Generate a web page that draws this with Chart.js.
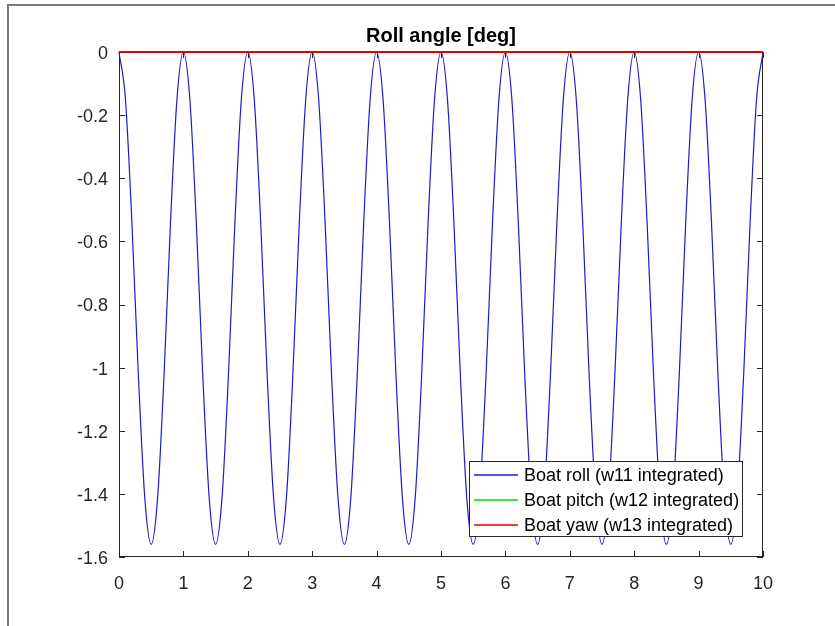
<!DOCTYPE html>
<html>
<head>
<meta charset="utf-8">
<script src="https://cdn.jsdelivr.net/npm/chart.js@4/dist/chart.umd.min.js"></script>
<style>
  html, body { margin: 0; padding: 0; background: #fff; }
  #wrap { position: relative; width: 835px; height: 626px; }
</style>
</head>
<body>
<div id="wrap"><canvas id="chart_roll" width="835" height="626"></canvas></div>
<script>
// time [s] and roll angle [deg], every 0.1 s
var rollTime = [
    0, 0.1, 0.2, 0.3, 0.4, 0.5, 0.6, 0.7, 0.8, 0.9,
    1, 1.1, 1.2, 1.3, 1.4, 1.5, 1.6, 1.7, 1.8, 1.9,
    2, 2.1, 2.2, 2.3, 2.4, 2.5, 2.6, 2.7, 2.8, 2.9,
    3, 3.1, 3.2, 3.3, 3.4, 3.5, 3.6, 3.7, 3.8, 3.9,
    4, 4.1, 4.2, 4.3, 4.4, 4.5, 4.6, 4.7, 4.8, 4.9,
    5, 5.1, 5.2, 5.3, 5.4, 5.5, 5.6, 5.7, 5.8, 5.9,
    6, 6.1, 6.2, 6.3, 6.4, 6.5, 6.6, 6.7, 6.8, 6.9,
    7, 7.1, 7.2, 7.3, 7.4, 7.5, 7.6, 7.7, 7.8, 7.9,
    8, 8.1, 8.2, 8.3, 8.4, 8.5, 8.6, 8.7, 8.8, 8.9,
    9, 9.1, 9.2, 9.3, 9.4, 9.5, 9.6, 9.7, 9.8, 9.9,
    10
];
var rollDeg = [
    0, -0.149, -0.539, -1.021, -1.411, -1.56, -1.411, -1.021, -0.539, -0.149,
    0, -0.149, -0.539, -1.021, -1.411, -1.56, -1.411, -1.021, -0.539, -0.149,
    0, -0.149, -0.539, -1.021, -1.411, -1.56, -1.411, -1.021, -0.539, -0.149,
    0, -0.149, -0.539, -1.021, -1.411, -1.56, -1.411, -1.021, -0.539, -0.149,
    0, -0.149, -0.539, -1.021, -1.411, -1.56, -1.411, -1.021, -0.539, -0.149,
    0, -0.149, -0.539, -1.021, -1.411, -1.56, -1.411, -1.021, -0.539, -0.149,
    0, -0.149, -0.539, -1.021, -1.411, -1.56, -1.411, -1.021, -0.539, -0.149,
    0, -0.149, -0.539, -1.021, -1.411, -1.56, -1.411, -1.021, -0.539, -0.149,
    0, -0.149, -0.539, -1.021, -1.411, -1.56, -1.411, -1.021, -0.539, -0.149,
    0, -0.149, -0.539, -1.021, -1.411, -1.56, -1.411, -1.021, -0.539, -0.149,
    0
];
// pitch and yaw stay flat at zero
var flatTime = [0, 10];
var pitchDeg = [0, 0];
var yawDeg = [0, 0];

var seriesLabels = ['Boat roll (w11 integrated)', 'Boat pitch (w12 integrated)', 'Boat yaw (w13 integrated)'];
var seriesColors = ['#1c1ccd', '#00dc00', '#e60000'];
var xRange = [0, 10];
var yRange = [-1.6, 0];

function toPoints(xs, ys) {
    return xs.map((x, i) => ({ x: x, y: ys[i] }));
}

var axisColor = '#262626';
var fontFamily = '"Liberation Sans", Arial, Helvetica, sans-serif';

// MATLAB-like axes box, inward ticks, frame and legend
var matlabLook = {
    id: 'matlabLook',
    beforeDraw(chart) {
        var ctx = chart.ctx;
        ctx.save();
        ctx.strokeStyle = '#7b7b7b';
        ctx.lineWidth = 2;
        ctx.beginPath();
        ctx.moveTo(8, chart.height);
        ctx.lineTo(8, 5);
        ctx.lineTo(chart.width, 5);
        ctx.stroke();
        ctx.restore();
    },
    beforeDatasetsDraw(chart) {
        var ctx = chart.ctx, a = chart.chartArea;
        var xs = chart.scales.x, ys = chart.scales.y;
        ctx.save();
        ctx.strokeStyle = axisColor;
        ctx.lineWidth = 1;
        ctx.strokeRect(a.left + 0.5, a.top + 0.5, a.right - a.left - 1, a.bottom - a.top - 1);
        ctx.beginPath();
        xs.ticks.forEach(t => {
            var px = Math.round(xs.getPixelForValue(t.value)) + 0.5;
            ctx.moveTo(px, a.bottom); ctx.lineTo(px, a.bottom - 6);
            ctx.moveTo(px, a.top); ctx.lineTo(px, a.top + 6);
        });
        ys.ticks.forEach(t => {
            var py = Math.round(ys.getPixelForValue(t.value)) + 0.5;
            ctx.moveTo(a.left, py); ctx.lineTo(a.left + 6, py);
            ctx.moveTo(a.right, py); ctx.lineTo(a.right - 6, py);
        });
        ctx.stroke();
        ctx.restore();
    },
    afterDraw(chart) {
        var ctx = chart.ctx, a = chart.chartArea;
        var w = 274, h = 76;
        var left = a.right - 20 - w, top = a.bottom - 20 - h;
        ctx.save();
        ctx.fillStyle = '#fff';
        ctx.fillRect(left, top, w, h);
        ctx.strokeStyle = axisColor;
        ctx.lineWidth = 1;
        ctx.strokeRect(left + 0.5, top + 0.5, w - 1, h - 1);
        ctx.font = '18px ' + fontFamily;
        ctx.textBaseline = 'middle';
        for (var i = 0; i < seriesLabels.length; i++) {
            var y = top + 14 + i * 25;
            ctx.beginPath();
            ctx.strokeStyle = seriesColors[i];
            ctx.lineWidth = 1.5;
            ctx.moveTo(left + 5, y);
            ctx.lineTo(left + 49, y);
            ctx.stroke();
            ctx.fillStyle = '#000';
            ctx.fillText(seriesLabels[i], left + 55, y + 1);
        }
        ctx.restore();
    }
};

document.chartRoll = new Chart(document.getElementById('chart_roll'), {
    type: 'line',
    data: {
        datasets: [{
            label: seriesLabels[0],
            data: toPoints(rollTime, rollDeg),
            borderColor: seriesColors[0],
            borderWidth: 1.2,
            pointRadius: 0,
            cubicInterpolationMode: 'monotone',
            clip: 3,
            order: 2
        }, {
            label: seriesLabels[1],
            data: toPoints(flatTime, pitchDeg),
            borderColor: seriesColors[1],
            borderWidth: 1.5,
            pointRadius: 0,
            clip: 3,
            order: 1
        }, {
            label: seriesLabels[2],
            data: toPoints(flatTime, yawDeg),
            borderColor: seriesColors[2],
            borderWidth: 1.8,
            pointRadius: 0,
            clip: 3,
            order: 0
        }]
    },
    options: {
        responsive: false,
        animation: false,
        layout: {
            padding: { left: 0, top: 0, right: 72, bottom: 0 }
        },
        plugins: {
            legend: { display: false },
            tooltip: { enabled: false },
            title: {
                display: true,
                text: 'Roll angle [deg]',
                fullSize: false,
                color: '#000',
                font: { family: fontFamily, size: 20, weight: 'bold', lineHeight: 1.2 },
                padding: { top: 24, bottom: 4 }
            }
        },
        scales: {
            x: {
                type: 'linear',
                min: xRange[0],
                max: xRange[1],
                grid: { display: false },
                border: { display: false },
                afterFit: (scale) => { scale.height = 69; },
                ticks: {
                    stepSize: 1,
                    color: axisColor,
                    padding: 8,
                    maxRotation: 0,
                    font: { family: fontFamily, size: 18 }
                }
            },
            y: {
                type: 'linear',
                min: yRange[0],
                max: yRange[1],
                grid: { display: false },
                border: { display: false },
                afterFit: (scale) => { scale.width = 119; },
                ticks: {
                    stepSize: 0.2,
                    color: axisColor,
                    padding: 3,
                    labelOffset: 2,
                    font: { family: fontFamily, size: 18 },
                    callback: (v) => String(Number(Number(v).toFixed(1)))
                }
            }
        }
    },
    plugins: [matlabLook]
});
</script>
</body>
</html>
